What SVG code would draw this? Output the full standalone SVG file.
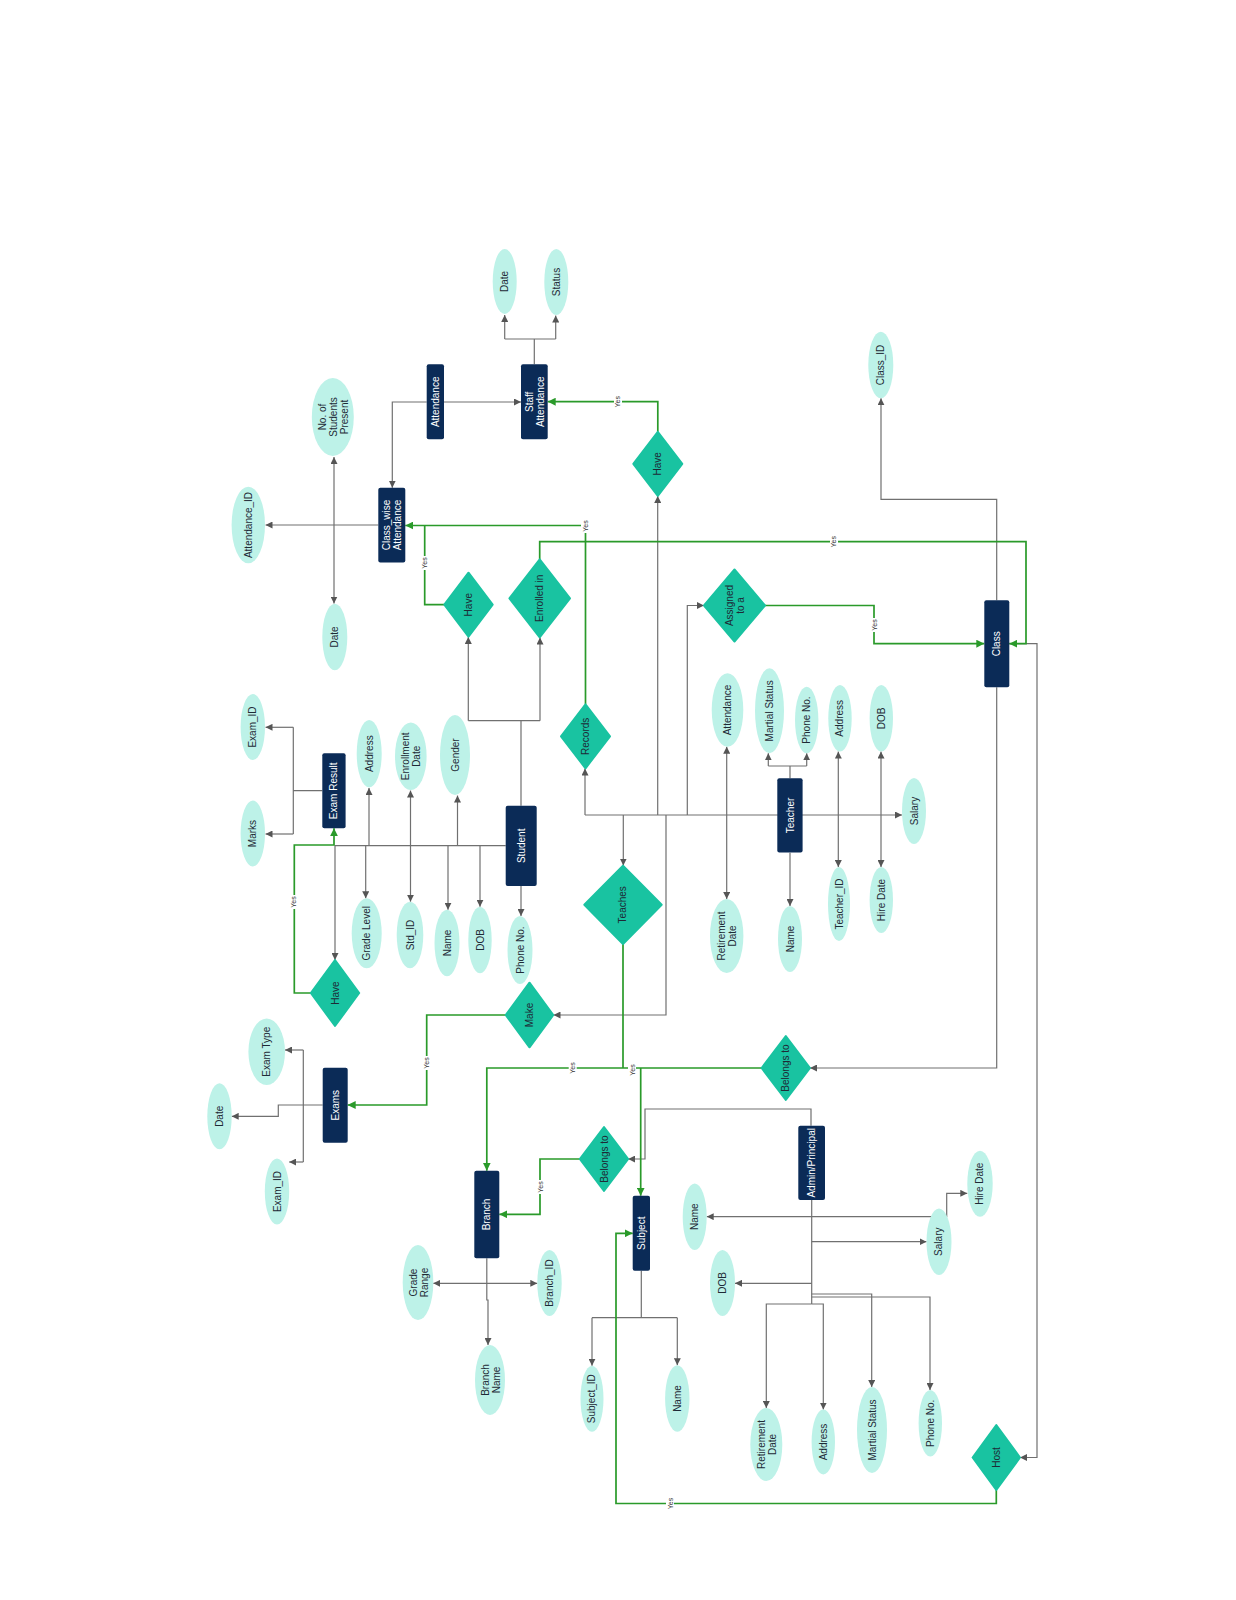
<svg xmlns="http://www.w3.org/2000/svg" width="1236" height="1600" viewBox="0 0 1236 1600">
<defs>
<marker id="ag" viewBox="0 0 10 10" refX="10" refY="5" markerWidth="7" markerHeight="7" markerUnits="userSpaceOnUse" orient="auto-start-reverse"><path d="M0,0 L10,5 L0,10 z" fill="#555"/></marker>
<marker id="agr" viewBox="0 0 10 10" refX="10" refY="5" markerWidth="8" markerHeight="8" markerUnits="userSpaceOnUse" orient="auto"><path d="M0,0 L10,5 L0,10 z" fill="#2a9a2a"/></marker>
<style>
.ent{fill:#0b2b57}
.attr{fill:#bdf2e8}
.rel{fill:#19c3a1;stroke:#19c3a1;stroke-width:2;stroke-linejoin:round}
.tw{fill:#ffffff;font-family:"Liberation Sans",Arial,sans-serif;font-size:10px;text-anchor:middle;dominant-baseline:central}
.td{fill:#1e2a36;font-family:"Liberation Sans",Arial,sans-serif;font-size:10px;text-anchor:middle;dominant-baseline:central}
.c{fill:none;stroke:#707070;stroke-width:1.2}
.g{fill:none;stroke:#2a9a2a;stroke-width:1.7}
.m{marker-end:url(#ag)}
.mm{marker-start:url(#ag);marker-end:url(#ag)}
.mg{marker-end:url(#agr)}
.yb{fill:#ffffff}
.y{fill:#333;font-family:"Liberation Sans",Arial,sans-serif;font-size:7px;text-anchor:middle;dominant-baseline:central}
</style>
</defs>
<rect width="1236" height="1600" fill="#ffffff"/>

<g id="connectors">
<!-- gray -->
<path class="c" d="M534.3,364.3 V339 M504.7,339 H555.7"/>
<path class="c m" d="M504.7,339 V315"/>
<path class="c m" d="M555.7,339 V315.5"/>
<path class="c m" d="M426.7,402 H392.3 V487.7"/>
<path class="c m" d="M444,402 H521"/>
<path class="c m" d="M378.3,525 H265.5"/>
<path class="c mm" d="M334,457 V603.5"/>
<path class="c" d="M521,805.7 V720.7 M468.3,720.7 H540"/>
<path class="c m" d="M468.3,720.7 V637"/>
<path class="c m" d="M540,720.7 V637.5"/>
<path class="c m" d="M505.7,845.7 H335 V960"/>
<path class="c m" d="M369,845.7 V788"/>
<path class="c m" d="M410.5,845.7 V790.5"/>
<path class="c m" d="M457.5,845.7 V795.5"/>
<path class="c m" d="M365.7,845.7 V898.3"/>
<path class="c m" d="M410.5,845.7 V901.7"/>
<path class="c m" d="M448,845.7 V909.7"/>
<path class="c m" d="M480,845.7 V906.7"/>
<path class="c m" d="M521,886 V916"/>
<path class="c" d="M322.3,790.7 H293.3 M293.3,727.3 V834"/>
<path class="c m" d="M293.3,727.3 H265.5"/>
<path class="c m" d="M293.3,834 H265.5"/>
<path class="c m" d="M585,815 H902"/>
<path class="c m" d="M585,815 V768.5"/>
<path class="c m" d="M623.3,815 V865.5"/>
<path class="c m" d="M657.7,815 V496"/>
<path class="c m" d="M666,815 V1015 H553.5"/>
<path class="c m" d="M687.3,815 V605.5 H704"/>
<path class="c m" d="M726.7,815 V746.7"/>
<path class="c m" d="M726.7,815 V899"/>
<path class="c m" d="M838.3,815 V751.6"/>
<path class="c m" d="M838.3,815 V867"/>
<path class="c m" d="M881,815 V751.6"/>
<path class="c m" d="M881,815 V867"/>
<path class="c" d="M790,778.3 V766 M768.3,766 H806.7"/>
<path class="c m" d="M768.3,766 V753.3"/>
<path class="c m" d="M806.7,766 V753.3"/>
<path class="c m" d="M790,852.7 V906"/>
<path class="c m" d="M996.7,600.3 V499.3 H881 V398.3"/>
<path class="c m" d="M996.7,687.3 V1068 H810"/>
<path class="c m" d="M1009.3,643.7 H1037 V1457.5 H1020"/>
<path class="c m" d="M811,1125.7 V1109 H645 V1159 H628.2"/>
<path class="c" d="M811.7,1200 V1304"/>
<path class="c m" d="M811.7,1216.7 H706.7"/>
<path class="c m" d="M811.7,1216.7 H946.7 V1193.3 H967.3"/>
<path class="c m" d="M811.7,1241.7 H926.5"/>
<path class="c m" d="M811.7,1283.3 H735"/>
<path class="c m" d="M811.7,1294 H871.7 V1387"/>
<path class="c m" d="M811.7,1297 H930 V1390"/>
<path class="c m" d="M811.7,1304 H766.3 V1408"/>
<path class="c m" d="M811.7,1304 H823.3 V1409.5"/>
<path class="c" d="M641.3,1270.7 V1317.7 M592,1317.7 H677.3"/>
<path class="c m" d="M592,1317.7 V1365.7"/>
<path class="c m" d="M677.3,1317.7 V1365.2"/>
<path class="c" d="M486.8,1258.3 V1283.3"/>
<path class="c mm" d="M433.3,1283.3 H537.3"/>
<path class="c m" d="M486.8,1283.3 V1300 H488 V1345"/>
<path class="c" d="M322.7,1105 H303.3 M303.3,1050 V1162"/>
<path class="c m" d="M303.3,1050 H285"/>
<path class="c m" d="M303.3,1162 H289.2"/>
<path class="c m" d="M303.3,1105 H278.3 V1116.3 H231.7"/>
<!-- green -->
<path class="g mg" d="M657.8,431.8 V401.7 H547.7"/>
<path class="g mg" d="M585.5,704.3 V525.5 H405.3"/>
<path class="g" d="M444.3,604.7 H424.7 V525.5"/>
<path class="g mg" d="M539.7,559.3 V541.7 H1026 V643.7 H1009.3"/>
<path class="g mg" d="M765,605.5 H874 V643.7 H984.3"/>
<path class="g mg" d="M310.8,993 H294.3 V845 H334 V828.3"/>
<path class="g mg" d="M505.7,1015 H426.7 V1105 H347.7"/>
<path class="g mg" d="M761.6,1068 H486.8 V1170.7"/>
<path class="g" d="M623,944 V1068"/>
<path class="g mg" d="M640.7,1068 V1195.7"/>
<path class="g mg" d="M579.8,1159 H540 V1214.3 H499.3"/>
<path class="g mg" d="M996.3,1490 V1503.5 H616 V1233.3 H632.7"/>
<!-- Yes labels -->
<rect class="yb" x="614" y="394.7" width="8" height="14"/><text class="y" transform="rotate(-90 618 401.7)" x="618" y="401.7">Yes</text>
<rect class="yb" x="581" y="519" width="8" height="14"/><text class="y" transform="rotate(-90 585 526)" x="585" y="526">Yes</text>
<rect class="yb" x="420.7" y="556" width="8" height="14"/><text class="y" transform="rotate(-90 424.7 563)" x="424.7" y="563">Yes</text>
<rect class="yb" x="830" y="534.7" width="8" height="14"/><text class="y" transform="rotate(-90 834 541.7)" x="834" y="541.7">Yes</text>
<rect class="yb" x="870" y="618" width="8" height="14"/><text class="y" transform="rotate(-90 874 625)" x="874" y="625">Yes</text>
<rect class="yb" x="289.5" y="895" width="8" height="14"/><text class="y" transform="rotate(-90 293.5 902)" x="293.5" y="902">Yes</text>
<rect class="yb" x="422.7" y="1056" width="8" height="14"/><text class="y" transform="rotate(-90 426.7 1063)" x="426.7" y="1063">Yes</text>
<rect class="yb" x="568.7" y="1061" width="8" height="14"/><text class="y" transform="rotate(-90 572.7 1068)" x="572.7" y="1068">Yes</text>
<rect class="yb" x="628" y="1063" width="8" height="14"/><text class="y" transform="rotate(-90 632 1070)" x="632" y="1070">Yes</text>
<rect class="yb" x="536" y="1180" width="8" height="14"/><text class="y" transform="rotate(-90 540 1187)" x="540" y="1187">Yes</text>
<rect class="yb" x="666" y="1496.5" width="8" height="14"/><text class="y" transform="rotate(-90 670 1503.5)" x="670" y="1503.5">Yes</text>
</g>

<g id="nodes">
<!-- entities -->
<g id="n-attendance"><rect class="ent" x="426.7" y="364.3" width="17.3" height="75" rx="2"/><text class="tw" transform="rotate(-90 435.3 401.8)" x="435.3" y="401.8">Attendance</text></g>
<g id="n-staff-attendance"><rect class="ent" x="521" y="364.3" width="26.7" height="75" rx="2"/><text class="tw" transform="rotate(-90 534.3 401.8)"><tspan x="534.3" y="396.3">Staff</tspan><tspan x="534.3" y="407.3">Attendance</tspan></text></g>
<g id="n-classwise-attendance"><rect class="ent" x="378.3" y="487.7" width="27" height="74.7" rx="2"/><text class="tw" transform="rotate(-90 391.8 525)"><tspan x="391.8" y="519.5">Class_wise</tspan><tspan x="391.8" y="530.5">Attendance</tspan></text></g>
<g id="n-exam-result"><rect class="ent" x="322.3" y="753.3" width="23.3" height="75" rx="2"/><text class="tw" transform="rotate(-90 334 790.8)" x="334" y="790.8">Exam Result</text></g>
<g id="n-student"><rect class="ent" x="505.7" y="805.7" width="31" height="80.3" rx="2"/><text class="tw" transform="rotate(-90 521.2 845.8)" x="521.2" y="845.8">Student</text></g>
<g id="n-teacher"><rect class="ent" x="777.3" y="778.3" width="25.3" height="74.3" rx="2"/><text class="tw" transform="rotate(-90 790 815.5)" x="790" y="815.5">Teacher</text></g>
<g id="n-class"><rect class="ent" x="984.3" y="600.3" width="25" height="87" rx="2"/><text class="tw" transform="rotate(-90 996.8 643.8)" x="996.8" y="643.8">Class</text></g>
<g id="n-exams"><rect class="ent" x="322.7" y="1067.7" width="25" height="75" rx="2"/><text class="tw" transform="rotate(-90 335.2 1105.2)" x="335.2" y="1105.2">Exams</text></g>
<g id="n-branch"><rect class="ent" x="474.3" y="1170.7" width="25" height="87.6" rx="2"/><text class="tw" transform="rotate(-90 486.8 1214.5)" x="486.8" y="1214.5">Branch</text></g>
<g id="n-subject"><rect class="ent" x="632.7" y="1195.7" width="17.3" height="75" rx="2"/><text class="tw" transform="rotate(-90 641.3 1233.2)" x="641.3" y="1233.2">Subject</text></g>
<g id="n-admin"><rect class="ent" x="798.3" y="1125.7" width="26.7" height="74.3" rx="2"/><text class="tw" transform="rotate(-90 811.7 1162.8)" x="811.7" y="1162.8">Admin/Principal</text></g>

<!-- relationships -->
<g id="r-have-staff"><polygon class="rel" points="657.8,431.8 682.3,463.8 657.8,495.8 633.3,463.8"/><text class="td" transform="rotate(-90 657.8 463.8)" x="657.8" y="463.8">Have</text></g>
<g id="r-have-classwise"><polygon class="rel" points="468.5,572.7 492.7,604.7 468.5,636.7 444.3,604.7"/><text class="td" transform="rotate(-90 468.5 604.7)" x="468.5" y="604.7">Have</text></g>
<g id="r-enrolled"><polygon class="rel" points="539.7,559.3 570,598.3 539.7,637.3 509.4,598.3"/><text class="td" transform="rotate(-90 539.7 598.3)" x="539.7" y="598.3">Enrolled in</text></g>
<g id="r-assigned"><polygon class="rel" points="734.5,569.5 765,605.5 734.5,641.5 704,605.5"/><text class="td" transform="rotate(-90 734.5 605.5)"><tspan x="734.5" y="600">Assigned</tspan><tspan x="734.5" y="611">to a</tspan></text></g>
<g id="r-records"><polygon class="rel" points="585.5,704.3 610,736.3 585.5,768.3 561,736.3"/><text class="td" transform="rotate(-90 585.5 736.3)" x="585.5" y="736.3">Records</text></g>
<g id="r-teaches"><polygon class="rel" points="623,865.6 661.7,904.8 623,944 584.3,904.8"/><text class="td" transform="rotate(-90 623 904.8)" x="623" y="904.8">Teaches</text></g>
<g id="r-have-exam"><polygon class="rel" points="335,960 359.2,993 335,1026 310.8,993"/><text class="td" transform="rotate(-90 335 993)" x="335" y="993">Have</text></g>
<g id="r-make"><polygon class="rel" points="529.5,982.7 553.3,1015 529.5,1047.3 505.7,1015"/><text class="td" transform="rotate(-90 529.5 1015)" x="529.5" y="1015">Make</text></g>
<g id="r-belongs-class"><polygon class="rel" points="785.8,1036 810,1068 785.8,1100 761.6,1068"/><text class="td" transform="rotate(-90 785.8 1068)" x="785.8" y="1068">Belongs to</text></g>
<g id="r-belongs-admin"><polygon class="rel" points="604,1127 628.2,1159 604,1191 579.8,1159"/><text class="td" transform="rotate(-90 604 1159)" x="604" y="1159">Belongs to</text></g>
<g id="r-host"><polygon class="rel" points="996.3,1425 1020,1457.5 996.3,1490 972.6,1457.5"/><text class="td" transform="rotate(-90 996.3 1457.5)" x="996.3" y="1457.5">Host</text></g>

<!-- attributes -->
<g id="a-staff-date"><ellipse class="attr" cx="504.7" cy="281.5" rx="12" ry="32.5"/><text class="td" transform="rotate(-90 504.7 281.5)" x="504.7" y="281.5">Date</text></g>
<g id="a-staff-status"><ellipse class="attr" cx="556.3" cy="282" rx="12" ry="33"/><text class="td" transform="rotate(-90 556.3 282)" x="556.3" y="282">Status</text></g>
<g id="a-students-present"><ellipse class="attr" cx="332.8" cy="417" rx="21" ry="39"/><text class="td" transform="rotate(-90 332.8 417)"><tspan x="332.8" y="406">No. of</tspan><tspan x="332.8" y="417">Students</tspan><tspan x="332.8" y="428">Present</tspan></text></g>
<g id="a-attendance-id"><ellipse class="attr" cx="248.3" cy="525" rx="16.7" ry="38.3"/><text class="td" transform="rotate(-90 248.3 525)" x="248.3" y="525">Attendance_ID</text></g>
<g id="a-cw-date"><ellipse class="attr" cx="334.8" cy="637" rx="12.5" ry="33.3"/><text class="td" transform="rotate(-90 334.8 637)" x="334.8" y="637">Date</text></g>
<g id="a-class-id"><ellipse class="attr" cx="880.8" cy="365" rx="12.5" ry="33.3"/><text class="td" transform="rotate(-90 880.8 365)" x="880.8" y="365">Class_ID</text></g>
<g id="a-er-exam-id"><ellipse class="attr" cx="252.8" cy="727" rx="12.2" ry="33"/><text class="td" transform="rotate(-90 252.8 727)" x="252.8" y="727">Exam_ID</text></g>
<g id="a-er-marks"><ellipse class="attr" cx="252.8" cy="833.5" rx="12.2" ry="33"/><text class="td" transform="rotate(-90 252.8 833.5)" x="252.8" y="833.5">Marks</text></g>
<g id="a-st-address"><ellipse class="attr" cx="369.2" cy="753.7" rx="12.5" ry="33.7"/><text class="td" transform="rotate(-90 369.2 753.7)" x="369.2" y="753.7">Address</text></g>
<g id="a-st-enroll"><ellipse class="attr" cx="410.8" cy="756.3" rx="15.8" ry="33.8"/><text class="td" transform="rotate(-90 410.8 756.3)"><tspan x="410.8" y="750.8">Enrollment</tspan><tspan x="410.8" y="761.8">Date</tspan></text></g>
<g id="a-st-gender"><ellipse class="attr" cx="455" cy="755" rx="15" ry="40"/><text class="td" transform="rotate(-90 455 755)" x="455" y="755">Gender</text></g>
<g id="a-st-grade"><ellipse class="attr" cx="366.7" cy="933.3" rx="15" ry="35"/><text class="td" transform="rotate(-90 366.7 933.3)" x="366.7" y="933.3">Grade Level</text></g>
<g id="a-st-id"><ellipse class="attr" cx="410" cy="935" rx="13.3" ry="33.3"/><text class="td" transform="rotate(-90 410 935)" x="410" y="935">Std_ID</text></g>
<g id="a-st-name"><ellipse class="attr" cx="447" cy="943" rx="12.5" ry="33.3"/><text class="td" transform="rotate(-90 447 943)" x="447" y="943">Name</text></g>
<g id="a-st-dob"><ellipse class="attr" cx="480" cy="940" rx="11.7" ry="33.3"/><text class="td" transform="rotate(-90 480 940)" x="480" y="940">DOB</text></g>
<g id="a-st-phone"><ellipse class="attr" cx="520" cy="950" rx="12.5" ry="34"/><text class="td" transform="rotate(-90 520 950)" x="520" y="950">Phone No.</text></g>
<g id="a-t-attendance"><ellipse class="attr" cx="727.5" cy="710" rx="15.8" ry="36.7"/><text class="td" transform="rotate(-90 727.5 710)" x="727.5" y="710">Attendance</text></g>
<g id="a-t-marital"><ellipse class="attr" cx="769.5" cy="710.8" rx="14.5" ry="42.5"/><text class="td" transform="rotate(-90 769.5 710.8)" x="769.5" y="710.8">Martial Status</text></g>
<g id="a-t-phone"><ellipse class="attr" cx="806.7" cy="720" rx="11.7" ry="33.3"/><text class="td" transform="rotate(-90 806.7 720)" x="806.7" y="720">Phone No.</text></g>
<g id="a-t-address"><ellipse class="attr" cx="840" cy="718.3" rx="11.7" ry="33.3"/><text class="td" transform="rotate(-90 840 718.3)" x="840" y="718.3">Address</text></g>
<g id="a-t-dob"><ellipse class="attr" cx="881.3" cy="718.3" rx="11.7" ry="33.3"/><text class="td" transform="rotate(-90 881.3 718.3)" x="881.3" y="718.3">DOB</text></g>
<g id="a-t-salary"><ellipse class="attr" cx="914" cy="811" rx="12" ry="33"/><text class="td" transform="rotate(-90 914 811)" x="914" y="811">Salary</text></g>
<g id="a-t-id"><ellipse class="attr" cx="839" cy="904" rx="11" ry="37"/><text class="td" transform="rotate(-90 839 904)" x="839" y="904">Teacher_ID</text></g>
<g id="a-t-hire"><ellipse class="attr" cx="881.3" cy="900" rx="11.7" ry="33"/><text class="td" transform="rotate(-90 881.3 900)" x="881.3" y="900">Hire Date</text></g>
<g id="a-t-name"><ellipse class="attr" cx="790" cy="939" rx="12" ry="33"/><text class="td" transform="rotate(-90 790 939)" x="790" y="939">Name</text></g>
<g id="a-t-retire"><ellipse class="attr" cx="726.7" cy="936" rx="16.7" ry="37"/><text class="td" transform="rotate(-90 726.7 936)"><tspan x="726.7" y="930.5">Retirement</tspan><tspan x="726.7" y="941.5">Date</tspan></text></g>
<g id="a-ex-type"><ellipse class="attr" cx="266.7" cy="1051.7" rx="18.3" ry="33.3"/><text class="td" transform="rotate(-90 266.7 1051.7)" x="266.7" y="1051.7">Exam Type</text></g>
<g id="a-ex-date"><ellipse class="attr" cx="219.5" cy="1116.3" rx="12.2" ry="33"/><text class="td" transform="rotate(-90 219.5 1116.3)" x="219.5" y="1116.3">Date</text></g>
<g id="a-ex-id"><ellipse class="attr" cx="277" cy="1191.5" rx="12.2" ry="33"/><text class="td" transform="rotate(-90 277 1191.5)" x="277" y="1191.5">Exam_ID</text></g>
<g id="a-br-grade"><ellipse class="attr" cx="418" cy="1282.5" rx="15.3" ry="37.5"/><text class="td" transform="rotate(-90 418 1282.5)"><tspan x="418" y="1277">Grade</tspan><tspan x="418" y="1288">Range</tspan></text></g>
<g id="a-br-id"><ellipse class="attr" cx="549.5" cy="1283" rx="12.2" ry="33"/><text class="td" transform="rotate(-90 549.5 1283)" x="549.5" y="1283">Branch_ID</text></g>
<g id="a-br-name"><ellipse class="attr" cx="490" cy="1380" rx="15" ry="35"/><text class="td" transform="rotate(-90 490 1380)"><tspan x="490" y="1374.5">Branch</tspan><tspan x="490" y="1385.5">Name</tspan></text></g>
<g id="a-sub-id"><ellipse class="attr" cx="592" cy="1398.7" rx="11.5" ry="33"/><text class="td" transform="rotate(-90 592 1398.7)" x="592" y="1398.7">Subject_ID</text></g>
<g id="a-sub-name"><ellipse class="attr" cx="677.3" cy="1398.5" rx="12.2" ry="33.3"/><text class="td" transform="rotate(-90 677.3 1398.5)" x="677.3" y="1398.5">Name</text></g>
<g id="a-ad-name"><ellipse class="attr" cx="694.7" cy="1216.7" rx="12" ry="33.3"/><text class="td" transform="rotate(-90 694.7 1216.7)" x="694.7" y="1216.7">Name</text></g>
<g id="a-ad-dob"><ellipse class="attr" cx="722.5" cy="1283" rx="12.5" ry="33"/><text class="td" transform="rotate(-90 722.5 1283)" x="722.5" y="1283">DOB</text></g>
<g id="a-ad-salary"><ellipse class="attr" cx="939" cy="1241.7" rx="12.5" ry="33.3"/><text class="td" transform="rotate(-90 939 1241.7)" x="939" y="1241.7">Salary</text></g>
<g id="a-ad-hire"><ellipse class="attr" cx="980" cy="1183.7" rx="12.7" ry="33"/><text class="td" transform="rotate(-90 980 1183.7)" x="980" y="1183.7">Hire Date</text></g>
<g id="a-ad-retire"><ellipse class="attr" cx="766.3" cy="1444.5" rx="16" ry="36.5"/><text class="td" transform="rotate(-90 766.3 1444.5)"><tspan x="766.3" y="1439">Retirement</tspan><tspan x="766.3" y="1450">Date</tspan></text></g>
<g id="a-ad-address"><ellipse class="attr" cx="823.3" cy="1442" rx="11.7" ry="32.5"/><text class="td" transform="rotate(-90 823.3 1442)" x="823.3" y="1442">Address</text></g>
<g id="a-ad-marital"><ellipse class="attr" cx="872" cy="1430" rx="15" ry="43"/><text class="td" transform="rotate(-90 872 1430)" x="872" y="1430">Martial Status</text></g>
<g id="a-ad-phone"><ellipse class="attr" cx="930.3" cy="1423.3" rx="11.7" ry="33.3"/><text class="td" transform="rotate(-90 930.3 1423.3)" x="930.3" y="1423.3">Phone No.</text></g>
</g>
</svg>
